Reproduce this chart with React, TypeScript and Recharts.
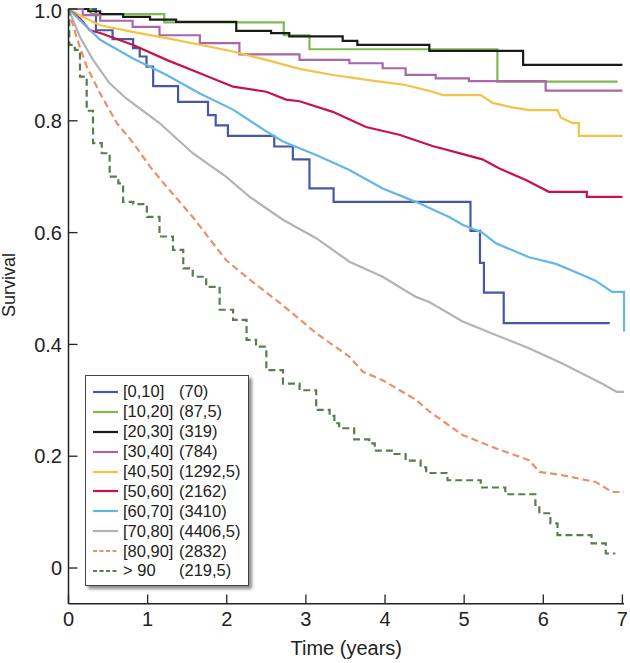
import React from 'react'
import { LineChart, Line, XAxis, YAxis, Legend } from 'recharts'

// tempo em anos, sobrevivência (0-1)
const age0to10: [number, number][] = [
  [0, 1.0], [0.347, 0.962], [0.557, 0.946], [0.817, 0.93], [0.9, 0.915], [0.986, 0.897],
  [1.07, 0.862], [1.385, 0.834], [1.763, 0.81], [1.86, 0.792], [2.015, 0.773], [2.6, 0.754],
  [2.835, 0.731], [3.045, 0.679], [3.35, 0.655], [5.08, 0.603], [5.2, 0.546], [5.25, 0.4925],
  [5.5, 0.438], [6.84, 0.438],
]
const age10to20: [number, number][] = [
  [0, 1.0], [0.28, 0.991], [1.21, 0.976], [2.72, 0.953], [3.045, 0.928], [5.42, 0.87], [6.94, 0.87],
]
const age20to30: [number, number][] = [
  [0, 1.0], [0.25, 0.996], [0.4, 0.991], [0.69, 0.986], [1.03, 0.981], [1.36, 0.977], [2.12, 0.961],
  [2.56, 0.957], [2.79, 0.951], [3.465, 0.943], [3.65, 0.936], [4.56, 0.925], [5.745, 0.9], [7.0, 0.9],
]
const age30to40: [number, number][] = [
  [0, 1.0], [0.18, 0.989], [0.4, 0.979], [0.81, 0.968], [1.15, 0.953], [1.66, 0.939], [2.16, 0.919],
  [2.92, 0.909], [3.55, 0.903], [3.97, 0.894], [4.26, 0.882], [4.64, 0.876], [5.06, 0.871],
  [6.03, 0.854], [7.0, 0.854],
]
const age40to50: [number, number][] = [
  [0, 1.0], [0.18, 0.986], [0.4, 0.971], [0.81, 0.959], [1.24, 0.948], [1.66, 0.936], [2.08, 0.924],
  [2.5, 0.909], [2.92, 0.893], [3.34, 0.882], [3.84, 0.872], [4.26, 0.864], [4.6, 0.852], [4.73, 0.846],
  [5.21, 0.846], [5.36, 0.832], [5.61, 0.824], [5.82, 0.819], [6.18, 0.819], [6.22, 0.806],
  [6.37, 0.796], [6.45, 0.796], [6.45, 0.773], [7.0, 0.773],
]
const age50to60: [number, number][] = [
  [0, 1.0], [0.145, 0.983], [0.27, 0.962], [0.4, 0.957], [0.81, 0.936], [1.24, 0.909], [1.66, 0.885],
  [2.08, 0.861], [2.5, 0.852], [2.75, 0.838], [2.92, 0.835], [3.34, 0.816], [3.76, 0.789], [4.18, 0.775],
  [4.6, 0.755], [5.02, 0.739], [5.23, 0.731], [5.44, 0.715], [5.78, 0.694], [6.07, 0.673],
  [6.55, 0.673], [6.55, 0.664], [7.0, 0.664],
]
const age60to70: [number, number][] = [
  [0, 1.0], [0.145, 0.98], [0.4, 0.945], [0.81, 0.912], [1.24, 0.882], [1.66, 0.849], [2.08, 0.82],
  [2.5, 0.781], [2.71, 0.763], [3.13, 0.739], [3.55, 0.712], [3.97, 0.679], [4.39, 0.655], [4.81, 0.628],
  [4.98, 0.614], [5.23, 0.6], [5.4, 0.581], [5.82, 0.556], [6.16, 0.544], [6.45, 0.527], [6.66, 0.514],
  [6.87, 0.494], [7.02, 0.494], [7.02, 0.423],
]
const age70to80: [number, number][] = [
  [0, 1.0], [0.145, 0.95], [0.31, 0.909], [0.52, 0.867], [0.73, 0.84], [1.15, 0.796], [1.57, 0.742],
  [1.99, 0.7], [2.29, 0.664], [2.71, 0.623], [3.13, 0.59], [3.55, 0.548], [3.97, 0.521], [4.39, 0.485],
  [4.56, 0.476], [4.98, 0.441], [5.4, 0.417], [5.82, 0.393], [6.24, 0.366], [6.49, 0.348], [6.74, 0.33],
  [6.93, 0.315], [7.02, 0.315],
]
const age80to90: [number, number][] = [
  [0, 1.0], [0.1, 0.95], [0.23, 0.897], [0.4, 0.849], [0.61, 0.796], [0.82, 0.76], [1.03, 0.718],
  [1.24, 0.682], [1.57, 0.628], [1.99, 0.551], [2.29, 0.516], [2.71, 0.47], [3.13, 0.42], [3.55, 0.378],
  [3.72, 0.351], [3.97, 0.336], [4.39, 0.301], [4.56, 0.28], [4.98, 0.238], [5.4, 0.214], [5.82, 0.193],
  [5.95, 0.172], [6.24, 0.166], [6.66, 0.154], [6.87, 0.136], [7.02, 0.136],
]
const ageOver90: [number, number][] = [
  [0, 1.0], [0.01, 0.936], [0.08, 0.927], [0.145, 0.879], [0.23, 0.818], [0.31, 0.76], [0.42, 0.742],
  [0.52, 0.7], [0.63, 0.688], [0.69, 0.655], [0.82, 0.651], [0.99, 0.628], [1.15, 0.593], [1.32, 0.569],
  [1.45, 0.536], [1.57, 0.521], [1.74, 0.503], [1.91, 0.462], [2.08, 0.444], [2.25, 0.408], [2.37, 0.396],
  [2.5, 0.354], [2.71, 0.33], [2.92, 0.318], [3.13, 0.283], [3.3, 0.272], [3.36, 0.259], [3.42, 0.25],
  [3.61, 0.23], [3.8, 0.223], [3.87, 0.21], [4.12, 0.204], [4.26, 0.192], [4.45, 0.18], [4.52, 0.17],
  [4.79, 0.157], [5.21, 0.144], [5.52, 0.132], [5.9, 0.113], [5.95, 0.098], [6.09, 0.08], [6.18, 0.059],
  [6.61, 0.044], [6.79, 0.026], [6.91, 0.026],
]

const groupLabels = ['[0,10]', '[10,20]', '[20,30]', '[30,40]', '[40,50]', '[50,60]', '[60,70]', '[70,80]', '[80,90]', '> 90']
const groupCounts = ['(70)', '(87,5)', '(319)', '(784)', '(1292,5)', '(2162)', '(3410)', '(4406,5)', '(2832)', '(219,5)']
const xTicks = [0, 1, 2, 3, 4, 5, 6, 7]
const yTicks = [0, 0.2, 0.4, 0.6, 0.8, 1.0]

const FONT = '"Liberation Sans", Arial, sans-serif'
const INK = '#222'

const series = [
  { key: 'a0', pts: age0to10, color: '#4459a6', type: 'stepAfter', dash: undefined },
  { key: 'a10', pts: age10to20, color: '#7dba52', type: 'stepAfter', dash: undefined },
  { key: 'a20', pts: age20to30, color: '#1b1b1b', type: 'stepAfter', dash: undefined },
  { key: 'a30', pts: age30to40, color: '#a966aa', type: 'stepAfter', dash: undefined },
  { key: 'a40', pts: age40to50, color: '#f4c244', type: 'linear', dash: undefined },
  { key: 'a50', pts: age50to60, color: '#cc1048', type: 'linear', dash: undefined },
  { key: 'a60', pts: age60to70, color: '#63b7e8', type: 'linear', dash: undefined },
  { key: 'a70', pts: age70to80, color: '#b3b3b3', type: 'linear', dash: undefined },
  { key: 'a80', pts: age80to90, color: '#ea906b', type: 'linear', dash: '7 4' },
  { key: 'a90', pts: ageOver90, color: '#5a7d4f', type: 'stepAfter', dash: '7 4' },
].map((s, i) => ({ ...s, label: groupLabels[i], count: groupCounts[i], data: s.pts.map(([t, v]) => ({ t, v })) }))

function XTick({ x, y, payload }: any) {
  return (
    <g>
      <line x1={x} x2={x} y1={y - 8} y2={y - 17} stroke={INK} strokeWidth={1.3} />
      <text x={x} y={y} dy="0.72em" textAnchor="middle" fontSize={20} fontFamily={FONT} fill={INK}>
        {payload.value}
      </text>
    </g>
  )
}

function YTick({ x, y, payload }: any) {
  const v = payload.value
  // o rótulo do topo desce um pouco para não sair da página
  const shift = v === 1 ? 2 : 0
  return (
    <g>
      <line x1={x + 6.5} x2={x + 15.5} y1={y} y2={y} stroke={INK} strokeWidth={1.3} />
      <text x={x} y={y + shift} dy="0.36em" textAnchor="end" fontSize={20} fontFamily={FONT} fill={INK}>
        {v === 0 ? '0' : v.toFixed(1)}
      </text>
    </g>
  )
}

function SurvivalLabel({ viewBox }: any) {
  const cx = viewBox.x + 9
  const cy = 285
  return (
    <text x={cx} y={cy} transform={`rotate(-90 ${cx} ${cy})`} dy="0.36em" textAnchor="middle" fontSize={18} fontFamily={FONT} fill={INK}>
      Survival
    </text>
  )
}

function LegendBox() {
  return (
    <div
      style={{
        width: 164,
        height: 211,
        boxSizing: 'border-box',
        border: '1px solid #444',
        background: '#fff',
        boxShadow: '3px 3px 3px rgba(0,0,0,0.45)',
        paddingTop: 6,
        fontFamily: FONT,
        fontSize: 16.5,
        color: INK,
      }}
    >
      {series.map((s) => (
        <div key={s.key} style={{ display: 'flex', alignItems: 'center', height: 19.9, whiteSpace: 'nowrap' }}>
          <svg width={25} height={4} style={{ marginLeft: 7, display: 'block' }}>
            <line x1={0} x2={25} y1={2} y2={2} stroke={s.color} strokeWidth={2.2} strokeDasharray={s.dash ? '4 2.5' : undefined} />
          </svg>
          <span style={{ marginLeft: 5, width: 56, display: 'inline-block' }}>{s.label}</span>
          <span>{s.count}</span>
        </div>
      ))}
    </div>
  )
}

export default function App() {
  return (
    <div style={{ position: 'absolute', left: 0, top: 0, width: 630, height: 663, background: '#fff' }}>
      <LineChart width={630} height={663} margin={{ top: 9, right: 6, bottom: 4.2, left: 0 }}>
        <XAxis
          dataKey="t"
          type="number"
          domain={[0, 7]}
          ticks={xTicks}
          allowDuplicatedCategory={false}
          height={55}
          tickSize={4}
          tickMargin={3.7}
          tickLine={false}
          tick={<XTick />}
          axisLine={{ stroke: INK, strokeWidth: 1.5 }}
          label={{ value: 'Time (years)', position: 'insideBottom', offset: 3.8, fontSize: 20, fontFamily: FONT, fill: INK }}
        />
        <YAxis
          dataKey="v"
          type="number"
          domain={[-0.064, 1.0]}
          ticks={yTicks}
          width={68.5}
          tickSize={4}
          tickMargin={2.5}
          tickLine={false}
          tick={<YTick />}
          axisLine={{ stroke: INK, strokeWidth: 1.5 }}
          label={<SurvivalLabel />}
        />
        <Legend
          layout="vertical"
          align="center"
          verticalAlign="middle"
          content={<LegendBox />}
          wrapperStyle={{ left: 85, top: 375, width: 164, height: 211 }}
        />
        {series.map((s) => (
          <Line
            key={s.key}
            data={s.data}
            dataKey="v"
            name={s.label}
            type={s.type as any}
            stroke={s.color}
            strokeWidth={2.2}
            strokeDasharray={s.dash}
            dot={false}
            activeDot={false}
            isAnimationActive={false}
          />
        ))}
      </LineChart>
    </div>
  )
}
